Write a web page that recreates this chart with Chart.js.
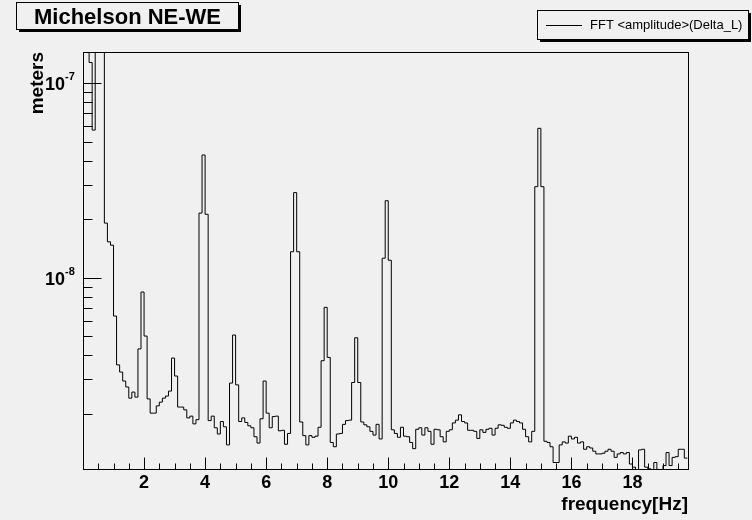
<!DOCTYPE html>
<html><head><meta charset="utf-8">
<script src="https://cdn.jsdelivr.net/npm/chart.js@4.4.0/dist/chart.umd.min.js"></script>
<style>html,body{margin:0;padding:0;background:#f0f0f0;}#wrap{width:752px;height:520px;}</style>
</head><body><div id="wrap"><canvas id="c" width="752" height="520"></canvas></div>
<script>
const titleText = 'Michelson NE-WE';
const legendText = 'FFT <amplitude>(Delta_L)';
const xTitle = 'frequency[Hz]';
const yTitle = 'meters';
const binWidthHz = 0.1;
const ampUnit = 1e-9; // values below are in units of 1e-9 m
// bins 0.0 - 5.0 Hz
const amp_0_5Hz = [170,170,128,57.5,400,800,300,19.1,15.3,14.7,
  6.35,3.56,3.27,2.94,2.74,2.40,2.58,2.43,4.30,8.44,
  5.01,2.38,2.01,2.01,2.19,2.29,2.40,2.46,2.61,3.86,
  3.12,2.16,2.16,2.09,1.90,1.94,1.77,1.86,21.5,42.8,
  21.2,1.84,1.94,1.69,1.57,1.82,1.71,1.38,2.87,5.07];
// bins 5.0 - 10.0 Hz
const amp_5_10Hz = [2.81,1.82,1.90,1.80,1.73,1.69,1.52,1.41,1.88,2.94,
  2.01,1.69,1.93,1.94,1.63,1.64,1.39,1.58,13.6,27.4,
  13.6,1.81,1.54,1.38,1.54,1.51,1.53,1.70,3.74,7.04,
  3.89,1.42,1.35,1.57,1.58,1.76,1.84,1.85,2.89,4.91,
  2.89,1.81,1.75,1.71,1.62,1.55,1.76,1.48,12.6,24.9];
// bins 10.0 - 15.0 Hz
const amp_10_15Hz = [12.3,1.65,1.58,1.51,1.70,1.53,1.52,1.42,1.32,1.66,
  1.69,1.55,1.69,1.62,1.39,1.66,1.65,1.52,1.43,1.62,
  1.65,1.79,1.85,1.97,1.82,1.79,1.64,1.64,1.62,1.49,
  1.65,1.60,1.66,1.68,1.55,1.68,1.75,1.74,1.70,1.68,
  1.79,1.85,1.82,1.79,1.66,1.52,1.43,1.62,29.4,58.7];
// bins 15.0 - 19.8 Hz
const amp_15_20Hz = [29.4,1.44,1.42,1.35,1.12,1.12,1.38,1.43,1.41,1.53,
  1.48,1.51,1.41,1.43,1.31,1.35,1.33,1.28,1.24,1.24,
  1.25,1.28,1.31,1.28,1.19,1.24,1.26,1.24,1.26,1.10,
  1.06,1.00,1.30,1.31,1.06,1.04,1.00,1.12,1.00,1.00,
  1.08,1.26,1.08,1.19,1.20,1.31,1.31,1.18];
const xMajorTicks = [2,4,6,8,10,12,14,16,18];
const xMinorStep = 0.5;
const yDecades = [-8,-7];
const xRange = [0, 19.82];
const yRange = [1.037e-9, 1.45e-7];

const allAmp = [...amp_0_5Hz, ...amp_5_10Hz, ...amp_10_15Hz, ...amp_15_20Hz];
const points = allAmp.map((v,i)=>({x: +(i*binWidthHz).toFixed(2), y: v*ampUnit}));
points.push({x: +(allAmp.length*binWidthHz).toFixed(2), y: allAmp[allAmp.length-1]*ampUnit});

const FONT = "'Liberation Sans', Arial, Helvetica, sans-serif";
const BG = '#f0f0f0';

const rootStyle = {
  id: 'rootStyle',
  beforeDraw(chart){
    const ctx = chart.ctx;
    ctx.save(); ctx.fillStyle = BG; ctx.fillRect(0,0,chart.width,chart.height); ctx.restore();
  },
  afterDraw(chart){
    const ctx = chart.ctx, a = chart.chartArea;
    const xs = chart.scales.x, ys = chart.scales.y;
    ctx.save();
    ctx.strokeStyle = '#000'; ctx.lineWidth = 1;
    const L = Math.round(a.left)+0.5, R = Math.round(a.right)+0.5, T = Math.round(a.top)+0.5, B = Math.round(a.bottom)+0.5;
    ctx.strokeRect(L, T, R-L, B-T);
    // x ticks
    ctx.beginPath();
    for (let k=1; k*xMinorStep < xRange[1]; k++){
      const v = k*xMinorStep;
      const px = Math.round(xs.getPixelForValue(v))+0.5;
      const len = xMajorTicks.includes(v) ? 12 : 6;
      ctx.moveTo(px, B); ctx.lineTo(px, B-len);
    }
    // y ticks
    for (let e=-10; e<=-6; e++){
      for (let m=1; m<=9; m++){
        const v = m*Math.pow(10,e);
        if (v < yRange[0] || v > yRange[1]) continue;
        const py = Math.round(ys.getPixelForValue(v))+0.5;
        const len = m===1 ? 18 : 9;
        ctx.moveTo(L, py); ctx.lineTo(L+len, py);
      }
    }
    ctx.stroke();
    // x tick labels
    ctx.fillStyle = '#000';
    ctx.font = 'bold 18px ' + FONT;
    ctx.textAlign = 'center'; ctx.textBaseline = 'alphabetic';
    xMajorTicks.forEach(v=>{ ctx.fillText(String(v), xs.getPixelForValue(v), 488); });
    // y tick labels 10^e
    yDecades.forEach(e=>{
      const py = ys.getPixelForValue(Math.pow(10,e));
      ctx.font = 'bold 18px ' + FONT; ctx.textAlign = 'right';
      ctx.fillText('10', 65, py+7);
      ctx.font = 'bold 11px ' + FONT; ctx.textAlign = 'left';
      ctx.fillText(String(e), 65, py-3);
    });
    // axis titles
    ctx.font = 'bold 19px ' + FONT;
    ctx.textAlign = 'right';
    ctx.fillText(xTitle, a.right, 510);
    ctx.save();
    ctx.translate(43, a.top); ctx.rotate(-Math.PI/2);
    ctx.textAlign = 'right'; ctx.fillText(yTitle, 0, 0);
    ctx.restore();
    // title box
    ctx.fillStyle = '#000';
    ctx.fillRect(19, 30, 222, 2); ctx.fillRect(239, 5, 2, 27);
    ctx.fillStyle = BG; ctx.fillRect(17, 3, 222, 27);
    ctx.strokeRect(16.5, 2.5, 222, 27);
    ctx.fillStyle = '#000';
    ctx.font = 'bold 22px ' + FONT; ctx.textAlign = 'center';
    ctx.fillText(titleText, 127.5, 23.5);
    // legend box
    ctx.fillRect(540, 40, 211, 2); ctx.fillRect(749, 13, 2, 29);
    ctx.fillStyle = BG; ctx.fillRect(538, 11, 211, 29);
    ctx.strokeRect(537.5, 10.5, 211, 29);
    ctx.beginPath(); ctx.moveTo(546, 25.5); ctx.lineTo(582, 25.5); ctx.stroke();
    ctx.fillStyle = '#000';
    ctx.font = '13px ' + FONT; ctx.textAlign = 'left'; ctx.textBaseline = 'middle';
    ctx.fillText(legendText, 590, 25.5);
    ctx.restore();
  }
};

new Chart(document.getElementById('c'), {
  type: 'line',
  data: { datasets: [{ label: legendText, data: points, stepped: 'before', borderColor: '#000', borderWidth: 1, pointRadius: 0, fill: false, tension: 0 }] },
  options: {
    responsive: false, animation: false, devicePixelRatio: 1,
    layout: { padding: { left: 83, top: 52, right: 64, bottom: 51 } },
    plugins: { legend: { display: false }, title: { display: false }, tooltip: { enabled: false } },
    scales: {
      x: { type: 'linear', min: xRange[0], max: xRange[1], display: false },
      y: { type: 'logarithmic', min: yRange[0], max: yRange[1], display: false }
    }
  },
  plugins: [rootStyle]
});
</script></body></html>
